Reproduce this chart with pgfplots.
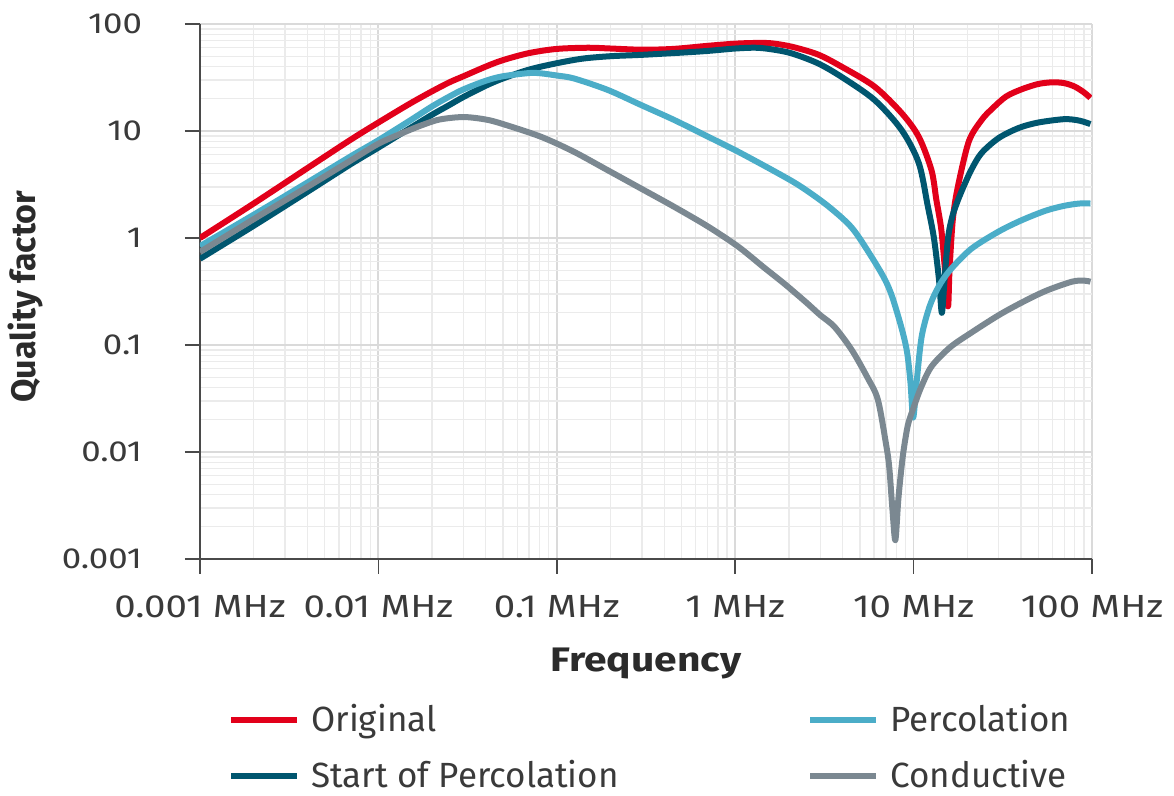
\documentclass[border=0pt]{standalone}
\usepackage{fontspec}
\setmainfont{Fira Sans}
\newfontfamily\tickfont{Fira Sans}[FakeStretch=1.2]
\usepackage{pgfplots}
\pgfplotsset{compat=1.18}
\usepackage{pgfplotstable}
\definecolor{cOrig}{HTML}{E2001A}
\definecolor{cStart}{HTML}{00566F}
\definecolor{cPerc}{HTML}{4BADC8}
\definecolor{cCond}{HTML}{7B8891}
\definecolor{cText}{HTML}{3A3A3A}
\definecolor{cLabel}{HTML}{2B2B2B}
\definecolor{cAxis}{HTML}{4A4A4A}
\definecolor{cGridMaj}{HTML}{DADADA}
\definecolor{cGridMin}{HTML}{EBEBEB}

\pgfplotstableread{
f Q
0.001 1.0
0.002 2.1
0.004 4.5
0.007 8.3
0.01 12
0.015 18
0.02 23.5
0.025 28.5
0.03 32.5
0.04 40
0.05 46
0.07 53.5
0.1 58.5
0.15 60
0.2 59
0.3 57.5
0.45 58.5
0.7 62.5
1.0 65.5
1.3 66.5
1.6 66
2.07 61.4
2.9 52
3.94 40
6.04 26
8.57 14.7
10.7 8.8
12.6 4.3
13.4 2.3
14.3 1.2
15.0 0.5
15.6 0.23
15.9 0.5
16.6 1.5
17.7 3.0
20.4 8.0
24 12.6
27.4 16
33 21
40.5 24.6
50 27.5
60 28.5
70 28
80 26
90 23
98 20.4
}\tOrig

\pgfplotstableread{
f Q
0.001 0.64
0.002 1.3
0.004 2.7
0.007 4.9
0.01 7.0
0.015 10.6
0.02 14.2
0.025 17.5
0.03 20.8
0.04 26.5
0.05 31
0.07 37.5
0.1 43
0.14 47.5
0.2 50
0.3 51.5
0.5 54
0.7 56
1.0 59
1.3 60
1.6 58
2.07 53.2
2.9 43
3.94 32.1
6.04 19.5
8.57 10.2
10.7 5.0
12.0 2.0
13.0 1.0
13.9 0.4
14.4 0.2
14.9 0.4
15.6 1.0
16.5 1.6
17.8 2.3
18.6 2.75
21 4.3
24 6.2
30 8.6
39 10.7
50 12
70 12.9
85 12.5
98 11.6
}\tStart

\pgfplotstableread{
f Q
0.001 0.84
0.002 1.65
0.004 3.3
0.007 5.8
0.01 8.2
0.015 12.5
0.02 17
0.025 21
0.03 24.5
0.04 29.5
0.05 32.5
0.07 34.8
0.0813 34.6
0.1 33
0.1246 31
0.193 24.2
0.2965 17.5
0.454 12.7
0.704 8.85
1.04 6.4
1.8 3.9
2.35 3.0
3.3 2.0
4.5 1.25
5.8 0.67
6.9 0.41
7.6 0.28
8.6 0.14
9.2 0.085
9.6 0.045
9.95 0.021
10.4 0.045
11.1 0.12
12.3 0.23
13.8 0.35
16 0.5
21 0.79
30 1.15
40.5 1.47
55 1.8
70 2.0
85 2.1
98 2.1
}\tPerc

\pgfplotstableread{
f Q
0.001 0.74
0.002 1.5
0.004 3.0
0.007 5.3
0.01 7.6
0.0135 9.5
0.0172 11.2
0.022 12.8
0.03 13.5
0.04 12.8
0.05 11.6
0.0813 8.85
0.1246 6.4
0.193 4.3
0.2965 2.9
0.454 1.96
0.704 1.28
1.04 0.83
1.45 0.53
1.9 0.37
2.5 0.25
3.0 0.19
3.6 0.148
4.5 0.09
5.5 0.05
6.3 0.031
7.0 0.012
7.3 0.0073
7.6 0.003
7.9 0.0015
8.2 0.0035
8.5 0.0065
8.8 0.0105
9.3 0.018
10 0.026
11 0.04
12.6 0.063
16 0.095
21 0.13
30 0.19
40.5 0.25
55 0.32
77 0.39
90 0.4
98 0.39
}\tCond

\begin{document}
\begin{tikzpicture}
\useasboundingbox (-100pt,-118.5pt) rectangle (487pt,279.5pt);
\begin{axis}[
  at={(0pt,0pt)}, anchor=south west,
  scale only axis, width=446pt, height=267.5pt,
  xmode=log, ymode=log,
  xmin=0.001, xmax=100, ymin=0.001, ymax=100,
  axis x line*=bottom, axis y line*=left,
  axis line style={cAxis, line width=1pt},
  xtick={0.001,0.01,0.1,1,10,100},
  xticklabels={0.001 MHz,0.01 MHz,0.1 MHz,1 MHz,10 MHz,100 MHz},
  ytick={0.001,0.01,0.1,1,10,100},
  yticklabels={0.001,0.01,0.1,1,10,100},
  tick align=outside, major tick length=7.5pt, minor tick length=0pt,
  tick style={cAxis, line width=0.8pt},
  grid=both,
  major grid style={cGridMaj, line width=0.9pt},
  minor grid style={cGridMin, line width=0.7pt},
  /pgf/number format/assume math mode=true,
  xticklabel style={font=\tickfont\fontsize{16}{19}\selectfont, text=cText, yshift=-7pt},
  yticklabel style={font=\tickfont\fontsize{14.5}{17}\selectfont, text=cText, xshift=-18pt},
  every axis x label/.style={at={(axis description cs:0.5,-0.211)}, anchor=base, font=\tickfont\fontsize{17}{20}\selectfont\bfseries, text=cLabel},
  every axis y label/.style={at={(axis description cs:-0.196,0.49)}, rotate=90, anchor=center, font=\fontsize{17}{20}\selectfont\bfseries, text=cLabel},
  xlabel={Frequency},
  ylabel={Quality factor},
  legend columns=2,
  legend cell align=left,
  legend style={at={(axis description cs:0,0)}, anchor=north west, xshift=11pt, yshift=-70.5pt,
    draw=none, fill=none, font=\fontsize{17.5}{20}\selectfont, text=cText,
    nodes={inner sep=0pt},
    row sep=13pt,
    /tikz/every odd column/.append style={column sep=5.5pt},
    /tikz/every even column/.append style={column sep=0pt}},
  legend image code/.code={\draw[#1] (0pt,0pt) -- (33pt,0pt);},
  every axis plot/.append style={line width=3pt, line join=round, line cap=butt, smooth, tension=0.5},
]
\addplot[cOrig, forget plot] table[x=f,y=Q] {\tOrig};
\addplot[cStart, forget plot] table[x=f,y=Q] {\tStart};
\addplot[cPerc, forget plot] table[x=f,y=Q] {\tPerc};
\addplot[cCond, forget plot] table[x=f,y=Q] {\tCond};
\addlegendimage{cOrig, line width=3pt}
\addlegendentry{\makebox[248pt][l]{Original}}
\addlegendimage{cPerc, line width=3pt}
\addlegendentry{Percolation}
\addlegendimage{cStart, line width=3pt}
\addlegendentry{\makebox[248pt][l]{Start of Percolation}}
\addlegendimage{cCond, line width=3pt}
\addlegendentry{Conductive}
\end{axis}
\end{tikzpicture}
\end{document}
